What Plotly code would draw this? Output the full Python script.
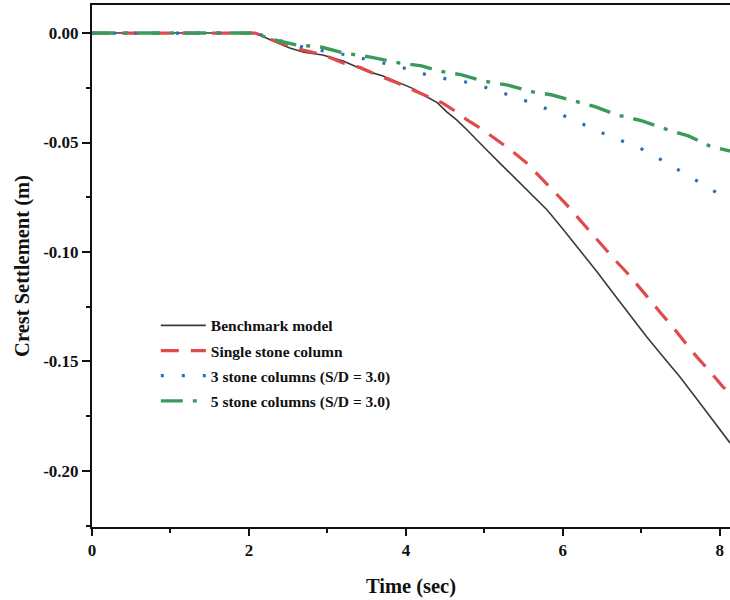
import plotly.graph_objects as go

# Time (s) and crest settlement (m)
t_bench = [0, 2.0, 2.08, 2.3, 2.52, 2.7, 2.94, 3.2, 3.5, 3.7, 3.89, 4.1, 4.27, 4.4, 4.52, 4.65, 4.78, 4.9, 5.03, 5.2, 5.41, 5.6, 5.8, 6.0, 6.22, 6.43, 6.64, 6.85, 7.07, 7.28, 7.49, 7.7, 7.91, 8.13]
s_bench = [0, 0, 0, -0.0035, -0.0068, -0.0088, -0.010, -0.0128, -0.0174, -0.0195, -0.0224, -0.0255, -0.0292, -0.0318, -0.036, -0.0398, -0.0443, -0.0485, -0.0534, -0.0595, -0.0671, -0.0738, -0.0808, -0.0895, -0.0991, -0.1088, -0.1187, -0.1285, -0.1388, -0.148, -0.157, -0.1668, -0.1767, -0.1872]

t_single = [0, 2.0, 2.08, 2.4, 2.69, 2.95, 3.2, 3.42, 3.63, 3.85, 4.09, 4.3, 4.47, 4.62, 4.78, 4.95, 5.11, 5.33, 5.54, 5.7, 5.87, 6.05, 6.22, 6.36, 6.51, 6.66, 6.82, 6.97, 7.11, 7.25, 7.4, 7.55, 7.71, 7.88, 8.04, 8.13]
s_single = [0, 0, 0, -0.0045, -0.0078, -0.010, -0.0137, -0.0158, -0.0192, -0.0222, -0.026, -0.029, -0.032, -0.0355, -0.0397, -0.0435, -0.0475, -0.0532, -0.0594, -0.0652, -0.0717, -0.0785, -0.0854, -0.0915, -0.0977, -0.1035, -0.1096, -0.1158, -0.1219, -0.128, -0.1342, -0.141, -0.148, -0.1548, -0.1616, -0.1644]

t_three = [0, 2.0, 2.08, 2.4, 2.69, 3.0, 3.25, 3.55, 3.83, 4.1, 4.31, 4.55, 4.84, 5.1, 5.39, 5.7, 5.99, 6.23, 6.47, 6.72, 6.98, 7.25, 7.53, 7.75, 7.97, 8.13]
s_three = [0, 0, 0, -0.0035, -0.0064, -0.0085, -0.010, -0.0125, -0.0146, -0.0172, -0.0196, -0.0212, -0.0228, -0.0258, -0.0292, -0.0333, -0.0374, -0.0412, -0.0452, -0.0488, -0.0525, -0.0578, -0.0639, -0.0685, -0.0731, -0.0744]

t_five = [0, 2.0, 2.08, 2.27, 2.45, 2.61, 2.9, 3.2, 3.55, 3.92, 4.2, 4.43, 4.7, 4.98, 5.3, 5.62, 5.85, 6.05, 6.4, 6.69, 7.0, 7.27, 7.6, 7.87, 8.13]
s_five = [0, 0, 0, -0.0027, -0.004, -0.0055, -0.0062, -0.0091, -0.011, -0.0137, -0.015, -0.0174, -0.019, -0.0219, -0.0238, -0.0269, -0.0282, -0.0301, -0.0335, -0.0374, -0.040, -0.0434, -0.047, -0.0516, -0.0539]

names = ["Benchmark model", "Single stone column",
         "3 stone columns (S/D = 3.0)", "5 stone columns (S/D = 3.0)"]

x_ticks = [0, 2, 4, 6, 8]
y_ticks = [0.0, -0.05, -0.10, -0.15, -0.20]
y_tick_text = ["0.00", "-0.05", "-0.10", "-0.15", "-0.20"]

FONT = "Liberation Serif"

fig = go.Figure()
fig.add_trace(go.Scatter(x=t_bench, y=s_bench, mode="lines", name=names[0], legendgroup="a",
                         line=dict(color="#3a3a3a", width=1.6)))
fig.add_trace(go.Scatter(x=t_single, y=s_single, mode="lines", name=names[1], legendgroup="b",
                         line=dict(color="#e04a4a", width=3.2, dash="18px,12px")))
fig.add_trace(go.Scatter(x=t_three, y=s_three, mode="lines", name=names[2], legendgroup="c",
                         line=dict(color="#2f6db5", width=3.2, dash="3px,18px")))
fig.add_trace(go.Scatter(x=t_five, y=s_five, mode="lines", name=names[3], legendgroup="d",
                         line=dict(color="#3a9a5c", width=3.4, dash="22px,10px,4px,10px")))

fig.update_layout(
    width=730, height=600,
    margin=dict(l=92, r=0, t=5, b=73),
    paper_bgcolor="white", plot_bgcolor="white",
    font=dict(family=FONT, size=14, color="#111"),
    showlegend=True,
    legend=dict(x=0.10, y=0.418, xanchor="left", yanchor="top",
                bgcolor="rgba(0,0,0,0)", itemwidth=45, tracegroupgap=2,
                font=dict(family=FONT, size=15.5, color="#111", weight="bold")),
)
fig.update_xaxes(
    range=[0, 8.13], showline=True, linecolor="#111", linewidth=2, mirror=True,
    showgrid=False, zeroline=False,
    tickvals=x_ticks, ticks="outside", ticklen=7, tickwidth=2, tickcolor="#111",
    minor=dict(tickvals=[1, 3, 5, 7], ticks="outside", ticklen=4, tickwidth=2, tickcolor="#111"),
    tickfont=dict(family=FONT, size=17, weight="bold"),
    title=dict(text="Time (sec)", font=dict(family=FONT, size=20.5, weight="bold"), standoff=19),
)
fig.update_yaxes(
    range=[-0.2256, 0.0128], showline=True, linecolor="#111", linewidth=2, mirror=False,
    showgrid=False, zeroline=False,
    tickvals=y_ticks, ticktext=y_tick_text, ticks="outside", ticklen=8, tickwidth=2, tickcolor="#111",
    minor=dict(tickvals=[-0.025, -0.075, -0.125, -0.175, -0.225], ticks="outside", ticklen=4, tickwidth=2, tickcolor="#111"),
    tickfont=dict(family=FONT, size=17, weight="bold"),
    title=dict(text="Crest Settlement (m)", font=dict(family=FONT, size=20.5, weight="bold"), standoff=8),
)

fig.write_html("out.html")
